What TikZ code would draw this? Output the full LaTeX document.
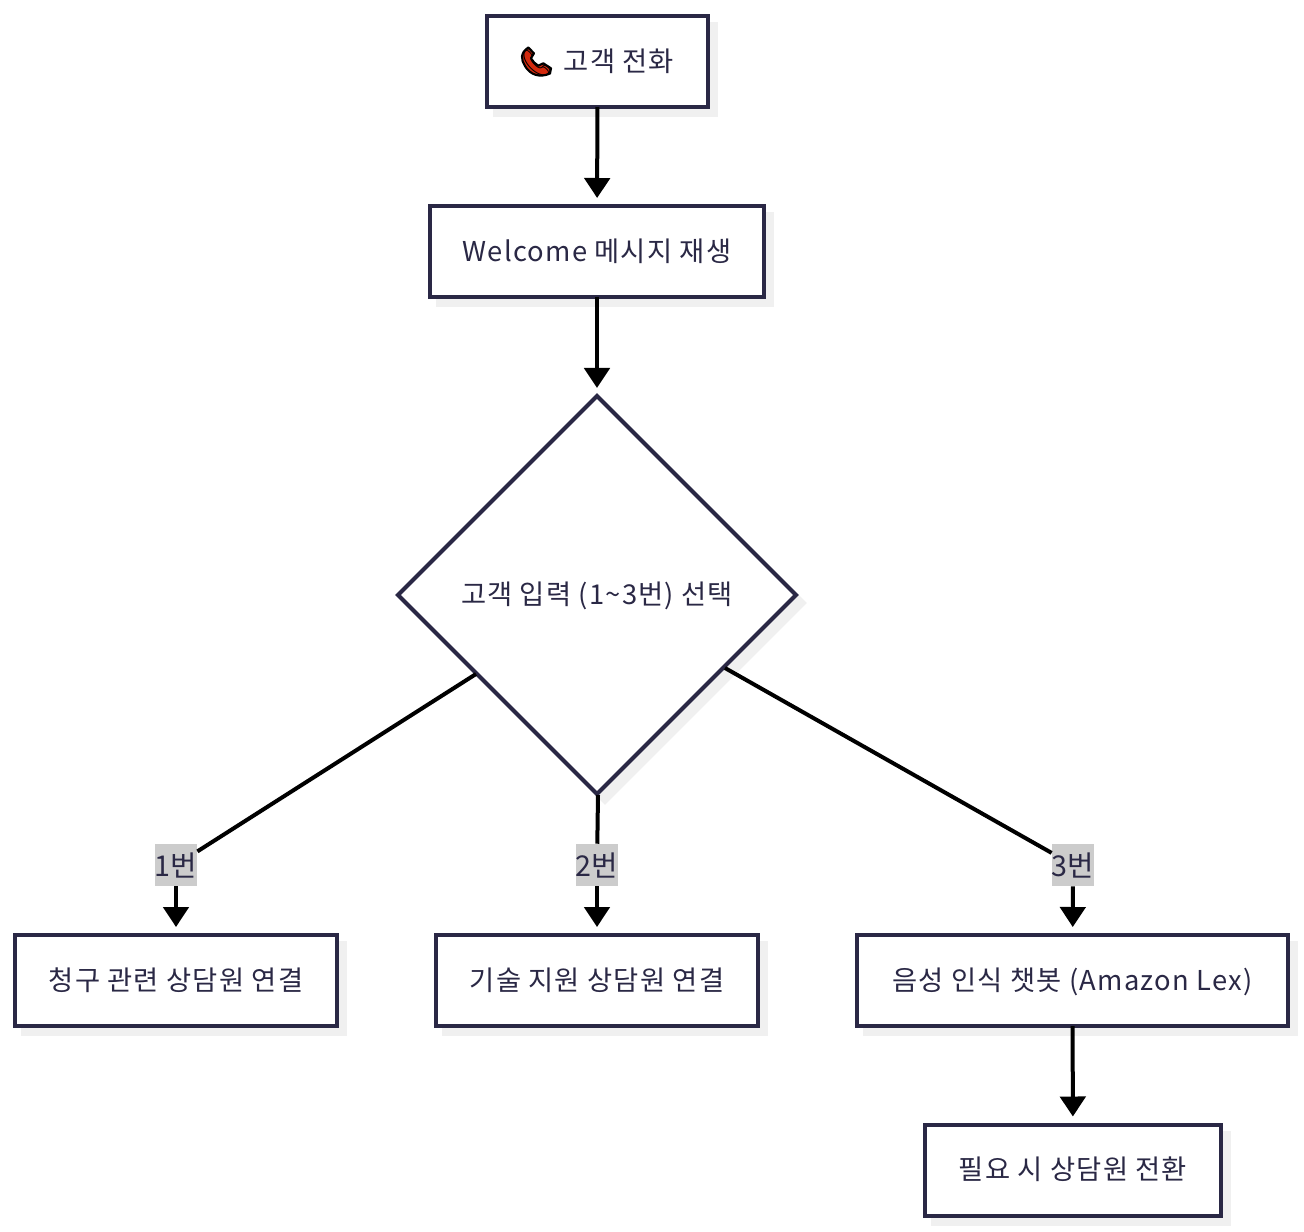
\documentclass[tikz,border=0pt]{standalone}
\usepackage{fontspec}
\setmainfont{Noto Sans CJK KR}
\newfontfamily\spacedfont{Noto Sans CJK KR}[LetterSpace=4.5]
\newfontfamily\emojifont{Noto Emoji}
\usetikzlibrary{shapes.geometric,shadows,arrows.meta}
\definecolor{ink}{HTML}{2A2845}
\definecolor{shade}{HTML}{F0F0F0}
\definecolor{lab}{HTML}{CCCCCC}
\definecolor{phonered}{HTML}{D42A0E}
\tikzset{
  sh/.style={general shadow={shadow xshift=6pt,shadow yshift=-6pt,fill=shade,draw=shade}},
  flowtext/.style={text=ink,font=\spacedfont\fontsize{20.5}{24}\selectfont,text height=19.5pt,text depth=5pt},
  flowbox/.style={sh,flowtext,draw=ink,fill=white,line width=3pt,inner sep=0pt,outer sep=0pt,align=center},
  flowdia/.style={sh,flowtext,draw=ink,fill=white,line width=3pt,shape=diamond,aspect=1,inner sep=0pt,outer sep=0pt,minimum width=298.5pt,minimum height=298.5pt},
  flowlab/.style={fill=lab,text=ink,inner sep=0pt,minimum width=31.5pt,minimum height=31.5pt,font=\fontsize{21.5}{24}\selectfont},
  flowarrow/.style={draw=black,line width=3pt,-{Triangle[length=15pt,width=19pt]},shorten >=6pt},
  flowline/.style={draw=black,line width=3pt}
}
\begin{document}
\begin{tikzpicture}[x=.75pt,y=-.75pt]
\useasboundingbox (0,0) rectangle (1304,1232);
\node[flowbox,minimum width=165.75pt,minimum height=68.25pt] (start) at (597.5,61.5) {\hspace{32pt}고객 전화};
\node[flowbox,minimum width=250.5pt,minimum height=68.25pt] (welcome) at (597,251.5) {Welcome 메시지 재생};
\node[flowdia] (dia) at (597,595) {고객 입력 (1\textasciitilde 3번) 선택};
\node[flowbox,minimum width=241.5pt,minimum height=68.25pt] (b1) at (176,980.5) {청구 관련 상담원 연결};
\node[flowbox,minimum width=241.5pt,minimum height=68.25pt] (b2) at (597,980.5) {기술 지원 상담원 연결};
\node[flowbox,minimum width=323.25pt,minimum height=68.25pt] (b3) at (1072.5,980.5) {음성 인식 챗봇 (Amazon Lex)};
\node[flowbox,minimum width=222pt,minimum height=68.25pt] (b4) at (1073,1170) {필요 시 상담원 전환};
\node[flowlab] (l1) at (176,865) {1번};
\node[flowlab] (l2) at (597,865) {2번};
\node[flowlab] (l3) at (1073,865) {3번};
\coordinate (d1) at (476,674);
\coordinate (d2) at (598,795);
\coordinate (d3) at (725,668);
\coordinate (iconc) at (537,62);
\draw[flowarrow] (start) -- (welcome);
\draw[flowarrow] (welcome) -- (dia);
\draw[flowline] (d1) -- (l1);
\draw[flowline] (d2) -- (l2);
\draw[flowline] (d3) -- (l3);
\draw[flowarrow] (l1) -- (b1);
\draw[flowarrow] (l2) -- (b2);
\draw[flowarrow] (l3) -- (b3);
\draw[flowarrow] (b3) -- (b4);
\draw[fill=phonered,draw=black,line width=1.6pt,line join=round]
  (528.3,47.5) -- (534,53.3) -- (531,58.3)
  .. controls (533,61.5) and (535,64) .. (538.3,65.7)
  -- (543.3,63.3) -- (551,68.3) -- (550,73.5)
  .. controls (540,78) and (530,75) .. (525,66)
  .. controls (521,60) and (520,53) .. (528.3,47.5) -- cycle;
\node[text=black,inner sep=0pt,font=\emojifont\fontsize{20}{24}\selectfont] (icon) at (iconc) {\char"1F4DE};
\end{tikzpicture}
\end{document}
